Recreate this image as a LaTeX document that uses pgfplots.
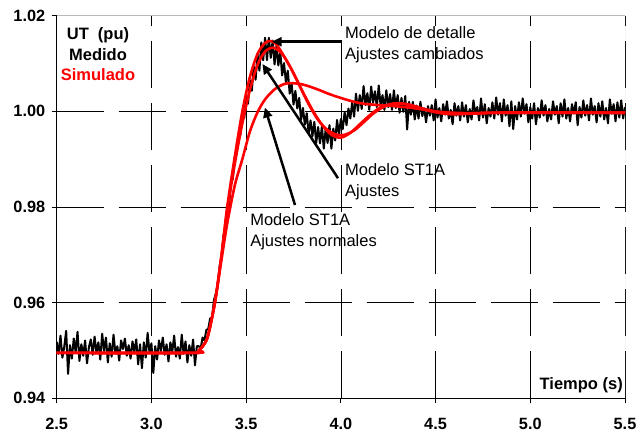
\documentclass[border=0pt]{standalone}
\usepackage{pgfplots}
\pgfplotsset{compat=1.18}
\usepackage{fontspec}
\setmainfont{Liberation Sans}
\usetikzlibrary{arrows.meta}
\begin{document}
\begin{tikzpicture}
\path[use as bounding box] (-56.7bp,-33.7bp) rectangle (587.3bp,398.3bp);
\begin{axis}[
  scale only axis, width=568.3bp, height=382.6bp,
  xmin=2.5, xmax=5.5, ymin=0.94, ymax=1.02,
  axis x line*=bottom, axis y line*=left,
  axis line style={black, line width=0.8bp},
  xtick={2.5,3.0,3.5,4.0,4.5,5.0,5.5},
  ytick={0.94,0.96,0.98,1.00,1.02},
  tick align=outside, major tick length=5bp,
  tick style={black, line width=0.8bp},
  grid=major,
  major grid style={black, line width=0.7bp, dash pattern=on 47bp off 15bp},
  /pgf/number format/assume math mode=true,
  ticklabel style={font=\bfseries\fontsize{16.3bp}{19bp}\selectfont},
  x tick label style={yshift=-11bp, /pgf/number format/fixed, /pgf/number format/fixed zerofill, /pgf/number format/precision=1},
  y tick label style={xshift=-3bp, /pgf/number format/fixed, /pgf/number format/fixed zerofill, /pgf/number format/precision=2},
]
% gray top/right frame
\draw[gray!55, line width=0.8bp] (rel axis cs:0,1) -- (rel axis cs:1,1) -- (rel axis cs:1,0);

% Measured
\addplot[black, line width=2bp, line join=round] coordinates {
(2.50,0.9518)(2.51,0.9493)(2.52,0.9531)(2.53,0.9485)(2.54,0.9508)(2.55,0.9541)(2.56,0.9451)(2.57,0.9511)(2.58,0.9483)(2.59,0.9525)
(2.60,0.9497)(2.61,0.9539)(2.62,0.9478)(2.63,0.9513)(2.64,0.9489)(2.65,0.9521)(2.66,0.9473)(2.67,0.9507)(2.68,0.9523)(2.69,0.9491)
(2.70,0.9529)(2.71,0.9495)(2.72,0.9517)(2.73,0.9481)(2.74,0.9535)(2.75,0.9499)(2.76,0.9527)(2.77,0.9475)(2.78,0.9515)(2.79,0.9487)
(2.80,0.9533)(2.81,0.9493)(2.82,0.9509)(2.83,0.9479)(2.84,0.9521)(2.85,0.9503)(2.86,0.9525)(2.87,0.9489)(2.88,0.9511)(2.89,0.9483)
(2.90,0.9519)(2.91,0.9497)(2.92,0.9523)(2.93,0.9471)(2.94,0.9513)(2.95,0.9463)(2.96,0.9517)(2.97,0.9485)(2.98,0.9537)(2.99,0.9495)
(3.00,0.9515)(3.01,0.9453)(3.02,0.9509)(3.03,0.9481)(3.04,0.9521)(3.05,0.9499)(3.06,0.9527)(3.07,0.9491)(3.08,0.9513)(3.09,0.9477)
(3.10,0.9517)(3.11,0.9497)(3.12,0.9531)(3.13,0.9487)(3.14,0.9507)(3.15,0.9483)(3.16,0.9533)(3.17,0.9493)(3.18,0.9519)(3.19,0.9475)
(3.20,0.9511)(3.21,0.9489)(3.22,0.9523)(3.23,0.9469)(3.24,0.9509)
(3.25,0.9509)(3.26,0.9504)(3.27,0.9527)(3.28,0.9521)(3.29,0.9543)(3.30,0.9545)(3.31,0.9567)(3.32,0.9569)(3.33,0.9605)(3.34,0.9619)
(3.35,0.9634)(3.36,0.9676)(3.37,0.9694)(3.38,0.9740)(3.39,0.9752)(3.40,0.9796)(3.41,0.9805)(3.42,0.9848)(3.43,0.9860)(3.44,0.9905)
(3.45,0.9911)(3.46,0.9954)(3.47,0.9951)(3.48,0.9996)(3.49,0.9986)(3.50,1.0033)(3.51,1.0016)(3.52,1.0065)(3.53,1.0043)(3.54,1.0094)
(3.55,1.0066)(3.56,1.0121)(3.57,1.0085)(3.58,1.0144)(3.59,1.0107)(3.60,1.0154)(3.61,1.0107)(3.62,1.0154)(3.63,1.0112)(3.64,1.0148)
(3.65,1.0098)(3.66,1.0137)(3.67,1.0096)(3.68,1.0126)(3.69,1.0075)(3.70,1.0101)(3.71,1.0061)(3.72,1.0085)(3.73,1.0037)(3.74,1.0059)
(3.75,1.0014)(3.76,1.0043)(3.77,1.0006)(3.78,1.0028)(3.79,0.9982)(3.80,1.0007)(3.81,0.9972)(3.82,0.9996)(3.83,0.9954)(3.84,0.9981)
(3.85,0.9948)(3.86,0.9978)(3.87,0.9934)(3.88,0.9967)(3.89,0.9933)(3.90,0.9969)(3.91,0.9922)(3.92,0.9964)(3.93,0.9934)(3.94,0.9971)
(3.95,0.9922)(3.96,0.9964)(3.97,0.9939)(3.98,0.9982)(3.99,0.9950)(4.00,0.9984)(4.01,0.9963)(4.02,0.9998)(4.03,0.9971)(4.04,1.0006)
(4.05,0.9985)(4.06,1.0020)(4.07,0.9989)(4.08,1.0037)(4.09,1.0001)(4.10,1.0034)(4.11,1.0005)(4.12,1.0053)(4.13,1.0013)(4.14,1.0038)
(4.15,1.0003)(4.16,1.0052)(4.17,1.0018)(4.18,1.0042)(4.19,1.0009)(4.20,1.0054)(4.21,1.0011)(4.22,1.0034)(4.23,1.0003)(4.24,1.0044)
(4.25,1.0009)(4.26,1.0036)(4.27,1.0003)(4.28,1.0044)(4.29,1.0007)(4.30,1.0034)(4.31,0.9997)(4.32,1.0028)(4.33,0.9999)(4.34,1.0032)
(4.35,0.9962)(4.36,1.0020)(4.37,0.9993)(4.38,1.0020)(4.39,0.9983)(4.40,1.0012)(4.41,0.9985)(4.42,1.0020)(4.43,0.9990)(4.44,1.0006)
(4.45,0.9977)(4.46,1.0011)(4.47,0.9991)(4.48,1.0013)(4.49,0.9981)
(4.50,1.0025)(4.51,0.9987)(4.52,1.0007)(4.53,0.9979)(4.54,1.0015)(4.55,0.9993)(4.56,1.0021)(4.57,0.9985)(4.58,1.0003)(4.59,0.9973)
(4.60,1.0017)(4.61,0.9991)(4.62,1.0011)(4.63,0.9981)(4.64,1.0019)(4.65,0.9989)(4.66,1.0013)(4.67,0.9977)(4.68,1.0005)(4.69,0.9983)
(4.70,1.0023)(4.71,0.9995)(4.72,1.0009)(4.73,0.9981)(4.74,1.0027)(4.75,0.9987)(4.76,1.0015)(4.77,0.9975)(4.78,1.0007)(4.79,0.9989)
(4.80,1.0019)(4.81,0.9985)(4.82,1.0029)(4.83,0.9993)(4.84,1.0017)(4.85,0.9979)(4.86,1.0025)(4.87,0.9991)(4.88,1.0013)(4.89,0.9969)
(4.90,1.0021)(4.91,0.9963)(4.92,1.0011)(4.93,0.9983)(4.94,1.0019)(4.95,0.9989)(4.96,1.0027)(4.97,0.9995)(4.98,1.0015)(4.99,0.9977)
(5.00,1.0009)(5.01,0.9985)(5.02,1.0017)(5.03,0.9973)(5.04,1.0007)(5.05,0.9987)(5.06,1.0023)(5.07,0.9991)(5.08,1.0013)(5.09,0.9979)
(5.10,1.0005)(5.11,0.9983)(5.12,1.0021)(5.13,0.9993)(5.14,1.0011)(5.15,0.9975)(5.16,1.0017)(5.17,0.9989)(5.18,1.0025)(5.19,0.9985)
(5.20,1.0007)(5.21,0.9979)(5.22,1.0015)(5.23,0.9995)(5.24,1.0019)(5.25,0.9971)(5.26,1.0009)(5.27,0.9987)(5.28,1.0023)(5.29,0.9991)
(5.30,1.0013)(5.31,0.9981)(5.32,1.0027)(5.33,0.9993)(5.34,1.0011)(5.35,0.9977)(5.36,1.0017)(5.37,0.9989)(5.38,1.0021)(5.39,0.9983)
(5.40,1.0007)(5.41,0.9975)(5.42,1.0025)(5.43,0.9995)(5.44,1.0015)(5.45,0.9979)(5.46,1.0019)(5.47,0.9987)(5.48,1.0023)(5.49,0.9985)
(5.50,1.0009)
};

% Simulated: ST1A normal settings
\addplot[red, line width=2.6bp, smooth, line join=round] coordinates {
(2.50,0.9495)(3.22,0.9495)(3.25,0.9500)(3.28,0.9514)(3.30,0.9533)(3.335,0.9600)(3.37,0.9690)(3.40,0.9765)(3.44,0.9845)(3.48,0.9900)
(3.52,0.9958)(3.56,0.9998)(3.60,1.0025)(3.65,1.0046)(3.70,1.0057)(3.74,1.0059)(3.80,1.0056)(3.87,1.0047)(3.94,1.0036)(4.00,1.0028)
(4.06,1.0021)(4.12,1.0016)(4.20,1.0013)(4.28,1.0011)(4.36,1.0008)(4.45,1.0003)(4.55,0.9998)(4.70,0.9996)(4.85,0.9997)(5.50,0.9997)
};
% Simulated: ST1A settings
\addplot[red, line width=2.6bp, smooth, line join=round] coordinates {
(2.50,0.9495)(3.22,0.9495)(3.25,0.9500)(3.28,0.9514)(3.30,0.9533)(3.335,0.9600)(3.37,0.9698)(3.40,0.9792)(3.44,0.9890)(3.48,0.9975)
(3.52,1.0045)(3.56,1.0097)(3.60,1.0125)(3.645,1.0133)(3.69,1.0120)(3.73,1.0095)(3.78,1.0055)(3.83,1.0015)(3.88,0.9982)(3.93,0.9961)
(3.98,0.9951)(4.02,0.9951)(4.07,0.9960)(4.12,0.9977)(4.17,0.9995)(4.22,1.0008)(4.27,1.0015)(4.32,1.0016)(4.38,1.0012)(4.45,1.0004)
(4.52,0.9998)(4.60,0.9995)(4.70,0.9996)(4.85,0.9997)(5.50,0.9997)
};
% Simulated: detailed model, changed settings
\addplot[red, line width=2.6bp, smooth, line join=round] coordinates {
(2.50,0.9495)(3.22,0.9495)(3.25,0.9500)(3.28,0.9514)(3.30,0.9533)(3.335,0.9600)(3.37,0.9700)(3.40,0.9800)(3.44,0.9905)(3.48,1.0000)
(3.52,1.0072)(3.56,1.0120)(3.60,1.0143)(3.63,1.0147)(3.66,1.0140)(3.70,1.0115)(3.75,1.0080)(3.80,1.0040)(3.85,1.0003)(3.90,0.9972)
(3.95,0.9951)(4.00,0.9945)(4.05,0.9955)(4.10,0.9973)(4.15,0.9991)(4.20,1.0006)(4.25,1.0014)(4.30,1.0017)(4.36,1.0014)(4.43,1.0005)
(4.50,0.9998)(4.58,0.9994)(4.68,0.9995)(4.80,0.9997)(5.00,0.9998)(5.50,0.9997)
};

% Arrows
\draw[black, line width=2.5bp, -{Triangle[length=10bp,width=9bp]}] (axis cs:4.0045,1.01456) -- (axis cs:3.635,1.01456);
\draw[black, line width=2.5bp, -{Triangle[length=10bp,width=9bp]}] (axis cs:3.985,0.98603) -- (axis cs:3.586,1.0099);
\draw[black, line width=2.5bp, -{Triangle[length=10bp,width=9bp]}] (axis cs:3.758,0.98042) -- (axis cs:3.599,1.0008);

% Text
\node[anchor=north, align=center, inner sep=0pt, font=\bfseries\fontsize{16.5bp}{20.8bp}\selectfont] at (axis cs:2.718,1.0176) {UT\ \ (pu)\\Medido\\\textcolor{red}{Simulado}};
\node[anchor=north west, align=left, inner sep=0pt, font=\fontsize{16.5bp}{21bp}\selectfont] at (axis cs:4.022,1.0177) {Modelo de detalle\\Ajustes cambiados};
\node[anchor=north west, align=left, inner sep=0pt, font=\fontsize{16.5bp}{21bp}\selectfont] at (axis cs:4.022,0.98914) {Modelo ST1A\\Ajustes};
\node[anchor=north west, align=left, inner sep=0pt, font=\fontsize{16.5bp}{21bp}\selectfont] at (axis cs:3.521,0.97868) {Modelo ST1A\\Ajustes normales};
\node[anchor=north east, inner sep=0pt, font=\bfseries\fontsize{16.5bp}{20bp}\selectfont] at (axis cs:5.4895,0.94435) {Tiempo (s)};
\end{axis}
\end{tikzpicture}
\end{document}
